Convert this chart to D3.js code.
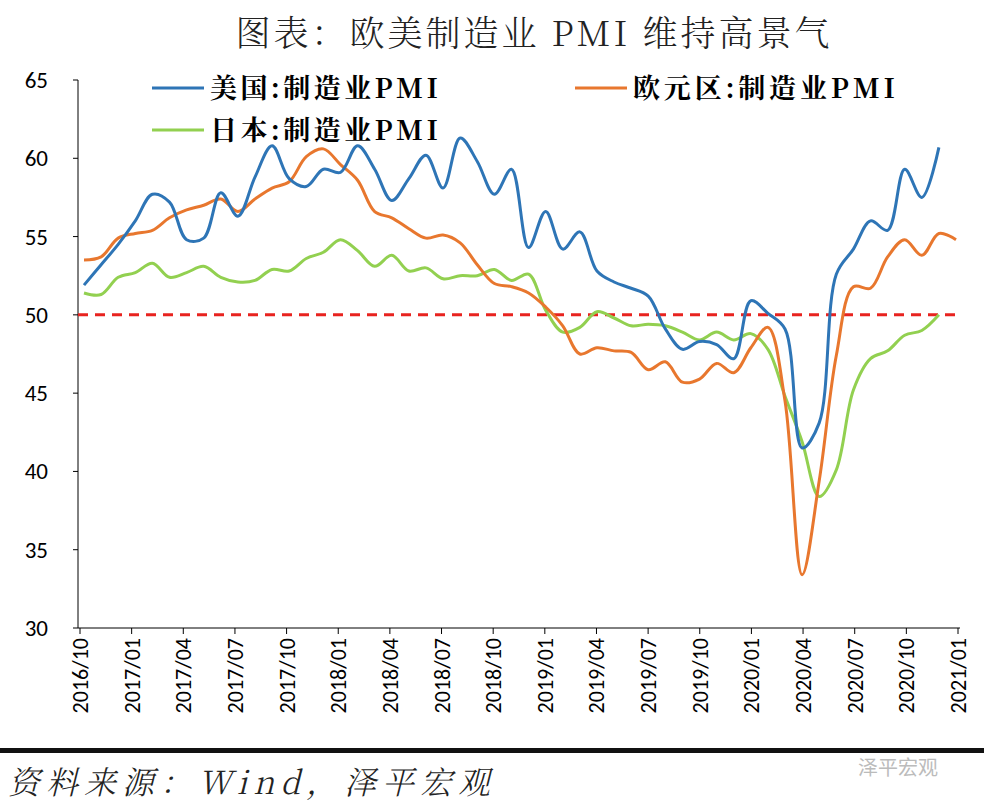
<!DOCTYPE html>
<html><head><meta charset="utf-8">
<script src="https://cdn.jsdelivr.net/npm/d3@7"></script>
<style>body{margin:0;background:#fff}svg{display:block}</style>
</head><body><svg id="c" width="984" height="809"></svg>
<script>
const startMonth = "2016-10";
const tickLabels = ["2016/10","2017/01","2017/04","2017/07","2017/10","2018/01","2018/04","2018/07","2018/10","2019/01","2019/04","2019/07","2019/10","2020/01","2020/04","2020/07","2020/10","2021/01"];
const usPMI = [51.9,53.2,54.5,56.0,57.7,57.2,54.8,54.9,57.8,56.3,58.8,60.8,58.7,58.2,59.3,59.1,60.8,59.3,57.3,58.7,60.2,58.1,61.3,59.8,57.7,59.3,54.3,56.6,54.2,55.3,52.8,52.1,51.7,51.2,49.1,47.8,48.3,48.1,47.2,50.9,50.1,49.1,41.5,43.1,52.6,54.2,56.0,55.4,59.3,57.5,60.7];
const euPMI = [53.5,53.7,54.9,55.2,55.4,56.2,56.7,57.0,57.4,56.6,57.4,58.1,58.5,60.1,60.6,59.6,58.6,56.6,56.2,55.5,54.9,55.1,54.6,53.2,52.0,51.8,51.4,50.5,49.3,47.5,47.9,47.7,47.6,46.5,47.0,45.7,45.9,46.9,46.3,47.9,49.2,44.5,33.4,39.4,47.4,51.8,51.7,53.7,54.8,53.8,55.2,54.8];
const jpPMI = [51.4,51.3,52.4,52.7,53.3,52.4,52.7,53.1,52.4,52.1,52.2,52.9,52.8,53.6,54.0,54.8,54.1,53.1,53.8,52.8,53.0,52.3,52.5,52.5,52.9,52.2,52.6,50.3,48.9,49.2,50.2,49.8,49.3,49.4,49.3,48.9,48.4,48.9,48.4,48.8,47.8,44.8,41.9,38.4,40.1,45.2,47.2,47.7,48.7,49.0,50.0];
const yTicks = [30,35,40,45,50,55,60,65];

const svg = d3.select("#c");
const x = d3.scaleLinear().domain([0,51]).range([84,956]);
const y = d3.scaleLinear().domain([30,65]).range([628,80]);
const serif = "'Noto Serif CJK SC','Noto Sans CJK SC',serif";

svg.append("text").attr("x",534).attr("y",46).attr("text-anchor","middle")
  .attr("font-family",serif).attr("font-weight",300).attr("font-size",35).attr("fill","#222")
  .attr("letter-spacing",3).text("图表：欧美制造业 PMI 维持高景气");

svg.append("line").attr("x1",78).attr("x2",78).attr("y1",80).attr("y2",628).attr("stroke","#000");
svg.append("line").attr("x1",78).attr("x2",960).attr("y1",628).attr("y2",628).attr("stroke","#000");
yTicks.forEach(v=>{
  svg.append("line").attr("x1",73).attr("x2",78).attr("y1",y(v)).attr("y2",y(v)).attr("stroke","#000");
  svg.append("text").attr("x",48).attr("y",y(v)+8).attr("text-anchor","end")
    .attr("font-family","Carlito,'Liberation Sans',sans-serif").attr("font-size",23).text(v);
});
const xt = d3.scaleLinear().domain([0,17]).range([80,958]);
tickLabels.forEach((t,i)=>{
  const xx = xt(i);
  svg.append("line").attr("x1",xx).attr("x2",xx).attr("y1",628).attr("y2",634).attr("stroke","#000");
  svg.append("text").attr("transform",`translate(${xx+8},638) rotate(-90)`).attr("text-anchor","end")
    .attr("font-family","Carlito,'Liberation Sans',sans-serif").attr("font-size",22).text(t);
});
svg.append("line").attr("x1",78).attr("x2",960).attr("y1",y(50)).attr("y2",y(50))
  .attr("stroke","#e8231f").attr("stroke-width",3).attr("stroke-dasharray","10,7");

const line = d3.line().x((d,i)=>x(i)).y(d=>y(d)).curve(d3.curveCatmullRom.alpha(0.5));
[[jpPMI,"#92d050"],[euPMI,"#e8772e"],[usPMI,"#2e75b6"]].forEach(([d,c])=>{
  svg.append("path").attr("d",line(d)).attr("fill","none").attr("stroke",c).attr("stroke-width",3);
});

const leg = [["美国:制造业PMI","#2e75b6",152,88],["欧元区:制造业PMI","#e8772e",575,88],["日本:制造业PMI","#92d050",152,130]];
leg.forEach(([t,c,lx,ly])=>{
  svg.append("line").attr("x1",lx).attr("x2",lx+52).attr("y1",ly).attr("y2",ly).attr("stroke",c).attr("stroke-width",3);
  svg.append("text").attr("x",lx+58).attr("y",ly+10).attr("font-family",serif)
    .attr("font-weight",700).attr("font-size",27).attr("textLength",lx===575?262:228).text(t);
});

svg.append("rect").attr("x",0).attr("y",748).attr("width",984).attr("height",5).attr("fill","#111");
svg.append("text").attr("x",8).attr("y",794).attr("font-family",serif).attr("font-style","italic")
  .attr("font-weight",300).attr("font-size",32).attr("fill","#222").attr("textLength",482).text("资料来源：Wind，泽平宏观");
svg.append("text").attr("x",858).attr("y",775).attr("font-family","'Noto Sans CJK SC',sans-serif")
  .attr("font-size",20).attr("fill","#bbb").text("泽平宏观");
</script></body></html>
